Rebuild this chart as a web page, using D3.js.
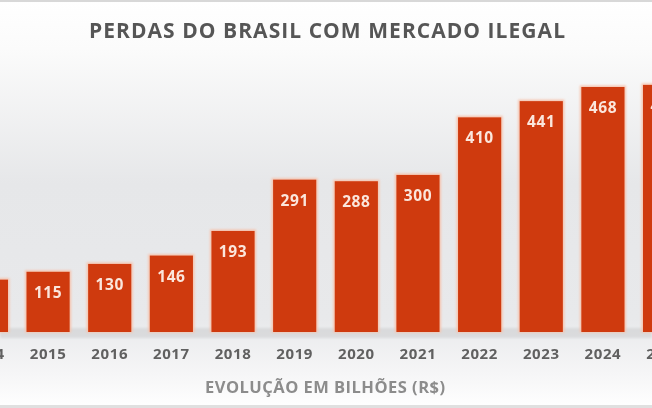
<!DOCTYPE html>
<html>
<head>
<meta charset="utf-8">
<script src="https://cdn.jsdelivr.net/npm/d3@7"></script>
<style>
  html, body { margin: 0; padding: 0; background: #fff; }
  svg { display: block; }
</style>
</head>
<body>
<div id="chart"></div>
<script>
const years = ['2014', '2015', '2016', '2017', '2018', '2019', '2020', '2021', '2022', '2023', '2024', '2025']
const losses = [100, 115, 130, 146, 193, 291, 288, 300, 410, 441, 468, 472]
const title = 'PERDAS DO BRASIL COM MERCADO ILEGAL'
const subtitle = 'EVOLUÇÃO EM BILHÕES (R$)'

const width = 652
const height = 408
const baseline = 332

const svg = d3.select('#chart').append('svg')
    .attr('width', width)
    .attr('height', height)

// background gradient
const defs = svg.append('defs')
const grad = defs.append('linearGradient')
    .attr('id', 'bg')
    .attr('x1', 0).attr('y1', 0).attr('x2', 0).attr('y2', 1)
grad.selectAll('stop')
    .data([['0%', '#ffffff'], ['12%', '#fbfbfb'], ['45%', '#e6e7e9'], ['78%', '#e8e9eb'], ['92%', '#f6f6f7'], ['100%', '#ffffff']])
    .join('stop')
    .attr('offset', d => d[0])
    .attr('stop-color', d => d[1])

const blur = defs.append('filter').attr('id', 'glow')
    .attr('x', '-20%').attr('y', '-20%').attr('width', '140%').attr('height', '140%')
blur.append('feGaussianBlur').attr('stdDeviation', 1.2)

const soft = defs.append('filter').attr('id', 'soft')
soft.append('feGaussianBlur').attr('stdDeviation', 0.45)

svg.append('rect')
    .attr('width', width)
    .attr('height', height)
    .attr('fill', 'url(#bg)')

svg.append('rect')
    .attr('width', width).attr('height', 2)
    .attr('fill', '#d8d8d8')
svg.append('rect')
    .attr('y', height - 3)
    .attr('width', width).attr('height', 3)
    .attr('fill', '#e0e0e0')

const x = d3.scaleBand()
    .domain(years)
    .range([-44.4, 695.4])
    .paddingInner(0.3)
    .paddingOuter(0.15)

const y = d3.scaleLinear()
    .domain([0, 500])
    .range([baseline, baseline - 500 * 0.5235])

// shadow under bars
svg.append('rect')
    .attr('x', 0)
    .attr('y', baseline - 4)
    .attr('width', width)
    .attr('height', 10)
    .attr('fill', '#c9cacc')
    .attr('opacity', 0.5)
    .attr('filter', 'url(#glow)')

const bars = svg.append('g')

bars.selectAll('rect.halo')
    .data(years)
    .join('rect')
    .attr('class', 'halo')
    .attr('x', d => x(d) - 1.5)
    .attr('y', (d, i) => y(losses[i]) - 1.5)
    .attr('width', x.bandwidth() + 3)
    .attr('height', (d, i) => baseline - y(losses[i]) + 2)
    .attr('fill', '#f6c3ad')
    .attr('filter', 'url(#glow)')

bars.selectAll('rect.bar')
    .data(years)
    .join('rect')
    .attr('class', 'bar')
    .attr('x', d => x(d))
    .attr('y', (d, i) => y(losses[i]))
    .attr('width', x.bandwidth())
    .attr('height', (d, i) => baseline - y(losses[i]))
    .attr('fill', '#cf3a0e')

bars.selectAll('text.val')
    .data(years)
    .join('text')
    .attr('class', 'val')
    .attr('x', d => x(d) + x.bandwidth() / 2)
    .attr('y', (d, i) => y(losses[i]) + 26)
    .attr('text-anchor', 'middle')
    .attr('font-family', 'Open Sans, sans-serif')
    .attr('font-weight', 700)
    .attr('font-size', 15.5)
    .attr('letter-spacing', 0.6)
    .attr('fill', '#fbe6dc')
    .attr('filter', 'url(#soft)')
    .text((d, i) => losses[i])

const xAxis = g => g
    .attr('transform', `translate(0,${baseline})`)
    .call(d3.axisBottom(x).tickSize(0).tickPadding(16))
    .call(g => g.select('.domain').remove())
    .call(g => g.selectAll('text')
        .attr('font-family', 'Open Sans, sans-serif')
        .attr('font-weight', 700)
        .attr('font-size', 15)
        .attr('letter-spacing', 0.6)
        .attr('fill', '#616161')
        .attr('filter', 'url(#soft)'))

svg.append('g').call(xAxis)

svg.append('text')
    .attr('x', 327)
    .attr('y', 38)
    .attr('text-anchor', 'middle')
    .attr('font-family', 'Open Sans, sans-serif')
    .attr('font-weight', 700)
    .attr('font-size', 21)
    .attr('textLength', 476)
    .attr('lengthAdjust', 'spacing')
    .attr('fill', '#575757')
    .attr('filter', 'url(#soft)')
    .text(title)

svg.append('text')
    .attr('x', 325)
    .attr('y', 393)
    .attr('text-anchor', 'middle')
    .attr('font-family', 'Open Sans, sans-serif')
    .attr('font-weight', 700)
    .attr('font-size', 16.5)
    .attr('textLength', 240)
    .attr('lengthAdjust', 'spacing')
    .attr('fill', '#8c8c8c')
    .attr('filter', 'url(#soft)')
    .text(subtitle)
</script>
</body>
</html>
